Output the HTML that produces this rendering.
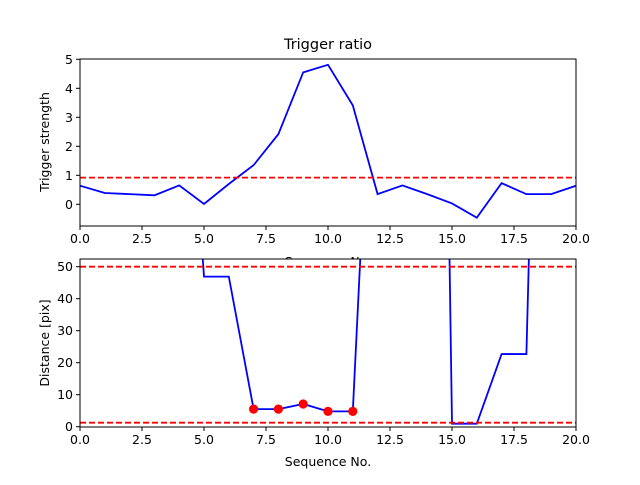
<!DOCTYPE html>
<html><head><meta charset="utf-8"><style>
body{margin:0;background:#fff}
svg text{font-family:"DejaVu Sans","Liberation Sans",sans-serif;fill:#000}
</style></head><body>
<svg id="chart" width="640" height="480" viewBox="0 0 640 480" xmlns="http://www.w3.org/2000/svg">
<defs>
<clipPath id="c1"><rect x="80" y="59" width="496" height="167"/></clipPath>
<clipPath id="c2"><rect x="80" y="259" width="496" height="168"/></clipPath>
</defs>
<rect width="640" height="480" fill="#fff"/>
<g id="g"></g>
</svg>
<script>
const xs = [0,1,2,3,4,5,6,7,8,9,10,11,12,13,14,15,16,17,18,19,20];
const ratio = [0.64,0.39,0.35,0.31,0.65,0.01,0.7,1.35,2.42,4.55,4.81,3.41,0.35,0.65,0.35,0.03,-0.46,0.73,0.35,0.35,0.64];
const ratioThreshold = 0.92;
const dist = [160,160,160,160,157,46.9,46.9,5.5,5.5,7.1,4.8,4.8,163,200,516,0.94,0.94,22.7,22.7,320,320];
const distThresholds = [50,1.25];
const hitIdx = [7,8,9,10,11];
const xTicks = ["0.0","2.5","5.0","7.5","10.0","12.5","15.0","17.5","20.0"];
const xTickVals = [0,2.5,5,7.5,10,12.5,15,17.5,20];
const y1Ticks = [0,1,2,3,4,5];
const y2Ticks = [0,10,20,30,40,50];

const NS="http://www.w3.org/2000/svg";
const g=document.getElementById('g');
function mk(t,a,p){const e=document.createElementNS(NS,t);for(const k in a)e.setAttribute(k,a[k]);(p||g).appendChild(e);return e;}
const X=v=>80+v*24.8;
const Y1=v=>204.3-v*29;
const Y2=v=>426.7-v*3.2;

function panel(top,bot,name){
  const fr=mk('rect',{x:80,y:top,width:496,height:bot-top,fill:'#fff',stroke:'none'});
  
  
  return fr;
}
function axesDecor(top,bot,Yf,ticks,ylabel,name,cy){
  const fr=mk('rect',{x:80,y:top,width:496,height:bot-top,fill:'none',stroke:'#000','stroke-width':1});
  
  
  xTickVals.forEach((v,i)=>{
    mk('line',{x1:X(v),x2:X(v),y1:bot,y2:bot+4,stroke:'#000'});
    const t=mk('text',{x:X(v),y:bot+17,'text-anchor':'middle','font-size':12.5});
    t.textContent=xTicks[i];
    
    
  });
  ticks.forEach(v=>{
    mk('line',{x1:76,x2:80,y1:Yf(v),y2:Yf(v),stroke:'#000'});
    const t=mk('text',{x:73,y:Yf(v)+4.5,'text-anchor':'end','font-size':12.5});
    t.textContent=v;
    
    
  });
  const yl=mk('text',{x:0,y:0,'text-anchor':'middle','font-size':12.5,transform:`translate(49,${cy}) rotate(-90)`});
  yl.textContent=ylabel;
  
  
}
function line(vals,Yf,clip,name){
  const p=mk('polyline',{points:xs.map((x,i)=>X(x)+','+Yf(vals[i])).join(' '),fill:'none',stroke:'#0000ff','stroke-width':1.8,'clip-path':`url(#${clip})`});
  
  
}
function hline(v,Yf,clip,name){
  const l=mk('line',{x1:80,x2:576,y1:Yf(v),y2:Yf(v),stroke:'#ff0000','stroke-width':1.8,'stroke-dasharray':'6,3','clip-path':`url(#${clip})`});
  
  
}

panel(59,226,'top-axes');
line(ratio,Y1,'c1','trigger-ratio-line');
hline(ratioThreshold,Y1,'c1','ratio-threshold-line');
axesDecor(59,226,Y1,y1Ticks,'Trigger strength','top',142);
const t1=mk('text',{x:328,y:49,'text-anchor':'middle','font-size':14.5});
t1.textContent='Trigger ratio';


const xl1=mk('text',{x:328,y:266,'text-anchor':'middle','font-size':12.5});
xl1.textContent='Sequence No.';



panel(259,427,'bottom-axes');
line(dist,Y2,'c2','distance-line');
distThresholds.forEach(v=>hline(v,Y2,'c2','distance-threshold-line'));
hitIdx.forEach(i=>{
  const c=mk('circle',{cx:X(xs[i]),cy:Y2(dist[i]),r:4.6,fill:'#ff0000'});
  
  
});
axesDecor(259,427,Y2,y2Ticks,'Distance [pix]','bottom',343);
const xl2=mk('text',{x:328,y:466,'text-anchor':'middle','font-size':12.5});
xl2.textContent='Sequence No.';


</script>
</body></html>
